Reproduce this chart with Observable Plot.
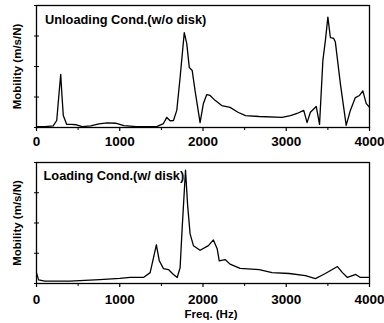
<!DOCTYPE html>
<html>
<head>
<meta charset="utf-8">
<script src="https://cdn.jsdelivr.net/npm/d3@7"></script>
<script src="https://cdn.jsdelivr.net/npm/@observablehq/plot@0.6"></script>
<style>
  body { margin: 0; background: #fff; }
  #chart { width: 384px; height: 323px; overflow: hidden; }
  #chart svg { display: block; }
</style>
</head>
<body>
<div id="chart"></div>
<script>
// Mobility spectra of the suspension, without and with the disk loaded.
const freqUnloaded = [0, 100, 200, 243, 270, 291, 307, 322, 363, 420, 480, 550, 650, 750, 850, 950, 1050, 1200, 1400, 1450, 1525, 1565, 1605, 1645, 1685, 1725, 1775, 1805, 1835, 1870, 1905, 1965, 2005, 2045, 2085, 2145, 2225, 2325, 2420, 2510, 2675, 2950, 3050, 3130, 3210, 3250, 3290, 3360, 3400, 3440, 3470, 3500, 3530, 3570, 3590, 3650, 3720, 3770, 3830, 3880, 3920, 3960, 4000];
const mobilityUnloaded = [0.03, 0.03, 0.05, 0.23, 1.1, 1.74, 1.0, 0.39, 0.1, 0.1, 0.09, 0.03, 0.05, 0.12, 0.15, 0.14, 0.06, 0.03, 0.03, 0.04, 0.13, 0.33, 0.22, 0.23, 0.56, 1.64, 3.11, 2.75, 1.97, 1.87, 1.2, 0.16, 0.79, 1.08, 1.05, 0.89, 0.72, 0.66, 0.5, 0.39, 0.36, 0.33, 0.39, 0.46, 0.56, 0.16, 0.5, 0.69, 0.1, 2.2, 2.85, 3.62, 2.95, 2.92, 2.8, 1.44, 0.07, 0.56, 0.98, 1.05, 1.2, 0.79, 0.66];

const freqLoaded = [0, 25, 100, 400, 760, 1000, 1125, 1285, 1365, 1405, 1440, 1475, 1525, 1585, 1645, 1690, 1725, 1750, 1790, 1815, 1845, 1885, 1965, 2065, 2125, 2170, 2195, 2265, 2325, 2445, 2675, 2830, 3035, 3230, 3350, 3470, 3615, 3675, 3735, 3835, 3890, 4000];
const mobilityLoaded = [0.35, 0.12, 0.08, 0.08, 0.13, 0.17, 0.2, 0.2, 0.36, 0.85, 1.28, 0.75, 0.49, 0.46, 0.3, 0.2, 0.52, 1.84, 3.75, 2.6, 1.64, 1.25, 1.1, 1.25, 1.44, 1.15, 0.75, 0.79, 0.64, 0.5, 0.46, 0.36, 0.33, 0.26, 0.16, 0.33, 0.56, 0.36, 0.2, 0.3, 0.2, 0.2];

const xTicks = [0, 1000, 2000, 3000, 4000];
const xMinorTicks = [500, 1500, 2500, 3500];
const yTicks = [0, 1, 2, 3, 4];
const panelTitles = ["Unloading Cond.(w/o disk)", "Loading Cond.(w/ disk)"];
const yLabel = "Mobility (m/s/N)";
const xLabel = "Freq. (Hz)";

const font = "'Liberation Sans', Arial, Helvetica, sans-serif";

function panel(freq, mobility, title, o) {
  const rows = freq.map((f, i) => ({f, m: mobility[i]}));
  const marks = [
    Plot.line(rows, {x: "f", y: "m", stroke: "#000", strokeWidth: 1.3}),
    Plot.frame({stroke: "#000", strokeWidth: 1.3}),
    Plot.axisX({ticks: xTicks, tickSize: 4, tickPadding: o.tickPadding, label: null,
                tickFormat: d3.format("d"),
                fontSize: 13.5, fontWeight: "bold", strokeWidth: 1.2}),
    Plot.axisX({ticks: xMinorTicks, tickSize: 3, tickFormat: () => "", label: null}),
    Plot.axisY({ticks: yTicks, tickSize: -3, tickFormat: () => "", label: null}),
    Plot.axisY({ticks: yTicks, tickSize: 2, tickFormat: () => "", label: null}),
    Plot.text([title], {frameAnchor: "top-left", dx: o.titleDx, dy: o.titleDy,
                        fontSize: 12.8, fontWeight: "bold", fill: "#000"}),
    Plot.text([yLabel], {frameAnchor: "left", rotate: -90, dx: -19.5, textAnchor: "middle",
                         fontSize: 11.5, fontWeight: "bold", fill: "#000"})
  ];
  if (o.xLabel) {
    marks.push(Plot.text([o.xLabel], {frameAnchor: "bottom", dx: 8, dy: 34,
                                      fontSize: 11.5, fontWeight: "bold", fill: "#000"}));
  }
  return Plot.plot({
    width: 384,
    height: o.height,
    marginLeft: 36,
    marginRight: 15,
    marginTop: o.marginTop,
    marginBottom: o.marginBottom,
    x: {domain: [0, 4000]},
    y: {domain: [0, 4]},
    style: {fontFamily: font, color: "#000", background: "#fff", overflow: "visible"},
    marks
  });
}

const chart = document.getElementById("chart");
chart.appendChild(panel(freqUnloaded, mobilityUnloaded, panelTitles[0],
  {height: 152, marginTop: 5, marginBottom: 25, tickPadding: 5, titleDx: 8.5, titleDy: 9}));
chart.appendChild(panel(freqLoaded, mobilityLoaded, panelTitles[1],
  {height: 171, marginTop: 10, marginBottom: 40, tickPadding: 7, titleDx: 7, titleDy: 8, xLabel}));
</script>
</body>
</html>
